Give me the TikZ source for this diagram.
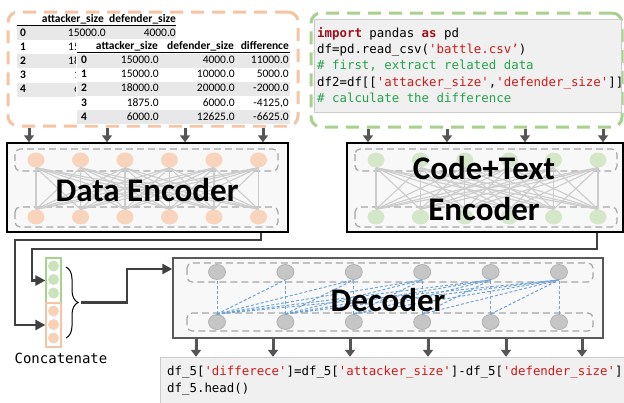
\documentclass[tikz,border=0pt]{standalone}
\usepackage{fontspec}
\setmainfont{Carlito}
\setmonofont{DejaVu Sans Mono}
\usetikzlibrary{arrows.meta,shapes.geometric,decorations.pathreplacing}
\definecolor{tabgray}{HTML}{E8E8E8}
\definecolor{orangeline}{HTML}{F6C4A2}
\definecolor{greenline}{HTML}{A9D18E}
\definecolor{orangedot}{HTML}{F8D4BC}
\definecolor{greendot}{HTML}{D4E7C8}
\definecolor{greydot}{HTML}{C6C6C6}
\definecolor{boxfill}{HTML}{F8F8F8}
\definecolor{codegray}{HTML}{F0F0F0}
\definecolor{kwred}{HTML}{A0101E}
\definecolor{strred}{HTML}{CC1A1A}
\definecolor{cmtgreen}{HTML}{22A34C}
\definecolor{arrgray}{HTML}{555555}
\definecolor{linkgray}{HTML}{404040}
\definecolor{lanegray}{HTML}{A6A6A6}
\definecolor{attnblue}{HTML}{6FA3D8}
\newcommand{\pykw}[1]{\textcolor{kwred}{\bfseries #1}}
\newcommand{\pystr}[1]{\textcolor{strred}{#1}}
\newcommand{\pycmt}[1]{\textcolor{cmtgreen}{#1}}
\begin{document}
\begin{tikzpicture}[x=1pt,y=-1pt,
		feed/.style={line width=3pt,draw=arrgray,-{Triangle[length=7pt,width=10pt]}},
		link/.style={line width=2.4pt,draw=linkgray,-{Triangle[length=10pt,width=10pt]}},
		dashbox/.style={draw=#1,line width=3pt,dash pattern=on 13pt off 8pt,rounded corners=10pt,inner sep=0pt},
		encbox/.style={draw=black,line width=1.5pt,fill=boxfill,inner sep=0pt},
		lane/.style={draw=lanegray,line width=1.2pt,dash pattern=on 7pt off 4pt,rounded corners=5pt},
		dot/.style={ellipse,fill=#1,minimum width=17pt,minimum height=15pt,inner sep=0pt},
		mesh/.style={draw=black!20,line width=1.1pt},
		attn/.style={draw=attnblue,line width=1pt,dash pattern=on 3pt off 2pt},
		cell/.style={inner sep=0pt,text height=8pt,text depth=2pt,font=\fontsize{11.5}{13}\selectfont},
		hdr/.style={cell,font=\fontsize{11.5}{13}\selectfont\bfseries},
		code/.style={inner sep=0pt,anchor=west,text height=9pt,text depth=3pt,font=\fontsize{12.4}{15}\ttfamily},
		biglab/.style={inner sep=0pt,font=\fontsize{33}{41}\selectfont\bfseries,align=center}]
	\useasboundingbox (0,0) rectangle (624,402);
	\node[name=tabs,dashbox=orangeline,minimum width=290pt,minimum height=114pt] at (153,69) {};
	\node[name=ahd1,hdr,anchor=east] at (104,19) {attacker\_size};
	\node[name=ahd2,hdr,anchor=east] at (176,19) {defender\_size};
	\draw[line width=0.8pt] (17,25) -- (176,25);
	\foreach \i in {0,2,4}
		\fill[tabgray] (17,{26+14.2*\i}) rectangle (176,{40+14.2*\i});
	\foreach \i in {0,...,4}
		\node[name=ai\i,hdr,anchor=west] at (20,{33+14.2*\i}) {\i};
	\node[name=aa0,cell,anchor=east] at (106,33) {15000.0};
	\node[name=ab0,cell,anchor=east] at (176,33) {4000.0};
	\foreach \a/\x [count=\i] in {15/68,18/68,1/74,6/74}
		\node[name=aa\i,cell,anchor=west] at (\x,{33+14.2*\i}) {\a};
	\fill[white] (76,39) rectangle (291,125);
	\node[name=bhd1,hdr,anchor=east] at (158,46) {attacker\_size};
	\node[name=bhd2,hdr,anchor=east] at (234,46) {defender\_size};
	\node[name=bhd3,hdr,anchor=east] at (289,46) {difference};
	\draw[line width=0.8pt] (77,52) -- (290,52);
	\foreach \i in {0,2,4}
		\fill[tabgray] (77,{53.5+14.2*\i}) rectangle (290,{67.5+14.2*\i});
	\foreach \a/\b/\c [count=\i from 0] in {15000.0/4000.0/11000.0,15000.0/10000.0/5000.0,18000.0/20000.0/-2000.0,1875.0/6000.0/-4125{,}0,6000.0/12625.0/-6625.0}{
		\node[name=bi\i,hdr,anchor=west] at (81,{60.5+14.2*\i}) {\i};
		\node[name=ba\i,cell,anchor=east] at (159,{60.5+14.2*\i}) {\a};
		\node[name=bb\i,cell,anchor=east] at (235,{60.5+14.2*\i}) {\b};
		\node[name=bc\i,cell,anchor=east] at (289,{60.5+14.2*\i}) {\c};
	}
	\node[name=prog,dashbox=greenline,minimum width=311pt,minimum height=114pt] at (466.5,70) {};
	\fill[codegray,draw=black!20] (314,19) rectangle (621,112);
	\node[name=c1,code] at (317,34) {\pykw{import} pandas \pykw{as} pd};
	\node[name=c2,code] at (317,50) {df=pd.read\_csv(\pystr{'battle.csv’})};
	\node[name=c3,code] at (317,66) {\pycmt{\# first, extract related data}};
	\node[name=c4,code] at (317,83) {df2=df[[\pystr{'attacker\_size'},\pystr{'defender\_size'}]]};
	\node[name=c5,code] at (317,99) {\pycmt{\# calculate the difference}};
	\node[name=denc,encbox,minimum width=281pt,minimum height=89pt] at (147.5,187.5) {};
	\node[name=cenc,encbox,minimum width=276pt,minimum height=89pt] at (485,187.5) {};
	\foreach \x in {29,107,185,263}
		\draw[feed] (\x,0 |- tabs.south) -- (\x,0 |- denc.north);
	\foreach \x in {368,447,525,603}
		\draw[feed] (\x,0 |- prog.south) -- (\x,0 |- cenc.north);
	\draw[lane] (15,149) rectangle (278,171);
	\draw[lane] (15,207) rectangle (278,227);
	\draw[lane] (355,149) rectangle (617,171);
	\draw[lane] (355,207) rectangle (617,227);
	\foreach \i in {1,...,6}{
		\node[name=dt\i,dot=orangedot] at ({36+44.5*(\i-1)},160) {};
		\node[name=db\i,dot=orangedot] at ({36+44.5*(\i-1)},217) {};
		\node[name=ct\i,dot=greendot] at ({376+44.4*(\i-1)},160) {};
		\node[name=cb\i,dot=greendot] at ({376+44.4*(\i-1)},217) {};
	}
	\foreach \i in {1,...,6}
		\foreach \j in {1,...,6}{
			\draw[mesh] (dt\i.south) -- (db\j.north);
			\draw[mesh] (ct\i.south) -- (cb\j.north);
		}
	\node[name=dlab,biglab] at (147,190) {Data Encoder};
	\node[name=clab,biglab] at (484,189) {Code+Text\\Encoder};
	\node[name=cg,draw=greenline,line width=1.2pt,minimum width=15pt,minimum height=45pt,inner sep=0pt] at (53.5,280.5) {};
	\node[name=co,draw=orangeline,line width=1.2pt,minimum width=15pt,minimum height=44pt,inner sep=0pt] at (53.5,325) {};
	\foreach \i in {1,2,3}{
		\node[name=cg\i,circle,fill=greendot!80!greenline,minimum size=11pt,inner sep=0pt] at (53.5,{266+13.5*(\i-1)}) {};
		\node[name=co\i,circle,fill=orangedot!80!orangeline,minimum size=11pt,inner sep=0pt] at (53.5,{311+13.5*(\i-1)}) {};
	}
	\node[name=cat,inner sep=0pt,font=\fontsize{14}{16}\ttfamily] at (61,358) {Concatenate};
	\draw[link] (261,0 |- denc.south) -- (261,240) -- (15,240) |- (co.west);
	\draw[link] (597,0 |- cenc.south) -- (597,249) -- (32,249) |- (cg.west);
	\draw[line width=1pt,decorate,decoration={brace,amplitude=12pt}] (66,267) -- (66,338);
	\coordinate (btip) at (81,302.5);
	\node[name=dec,encbox,draw=black!65,minimum width=430pt,minimum height=80pt] at (388,298) {};
	\draw[link] (btip) -- (127,302.5) |- (dec.west |- 0,269);
	\draw[lane] (187,263) rectangle (593,282);
	\draw[lane] (187,313) rectangle (593,331);
	\foreach \i in {1,...,6}{
		\node[name=xt\i,dot=greydot,draw=black!30,line width=0.8pt] at ({217+68.4*(\i-1)},272) {};
		\node[name=xb\i,dot=greydot,draw=black!30,line width=0.8pt] at ({217+68.4*(\i-1)},322) {};
	}
	\foreach \i in {1,...,6}
		\foreach \j in {\i,...,6}
			\draw[attn] (xb\i.north) -- (xt\j.south);
	\node[name=xlab,biglab] at (388,300) {Decoder};
	\node[name=out,fill=codegray,draw=black!20,minimum width=470pt,minimum height=46pt,inner sep=0pt] at (395,380) {};
	\foreach \x in {196,273,350,428,506,582}
		\draw[feed] (\x,0 |- dec.south) -- (\x,0 |- out.north);
	\node[name=o1,code] at (167,372) {df\_5[\pystr{'differece'}]=df\_5[\pystr{'attacker\_size'}]-df\_5[\pystr{'defender\_size'}]};
	\node[name=o2,code] at (167,389) {df\_5.head()};
\end{tikzpicture}
\end{document}
